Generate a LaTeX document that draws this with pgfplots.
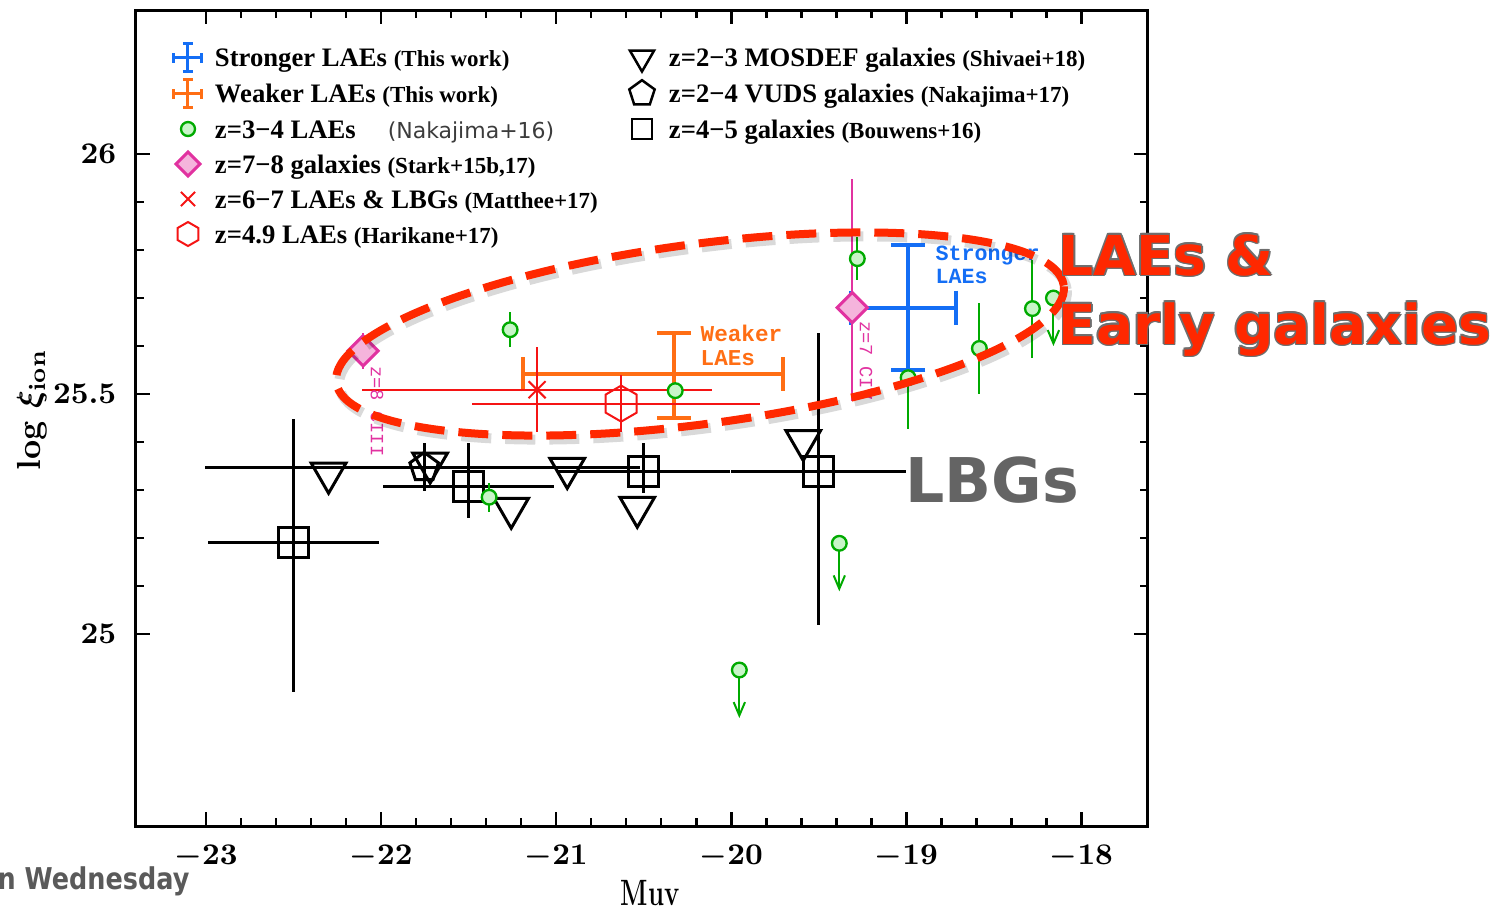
\documentclass[border=0pt]{standalone}
\usepackage{fontspec}
\usepackage{graphicx}
\usepackage{pgfplots}
\pgfplotsset{compat=1.18}
\usetikzlibrary{arrows.meta}
\newfontfamily\dejavu{DejaVu Sans}
\newfontfamily\lmono{Liberation Mono}
\newfontfamily\lserif{Liberation Serif}

\definecolor{cblue}{RGB}{20,110,245}
\definecolor{corange}{RGB}{255,110,20}
\definecolor{cgreen}{RGB}{0,170,0}
\definecolor{cgreenfill}{RGB}{200,245,200}
\definecolor{cpink}{RGB}{225,50,160}
\definecolor{cpinkfill}{RGB}{245,180,220}
\definecolor{cred}{RGB}{245,20,20}
\definecolor{cellipse}{RGB}{255,40,0}
\definecolor{cgraytext}{RGB}{100,100,100}
\definecolor{coutline}{RGB}{110,110,110}

\pgfdeclareplotmark{hexagon}{%
 \pgfpathmoveto{\pgfqpointpolar{90}{\pgfplotmarksize}}%
 \pgfpathlineto{\pgfqpointpolar{150}{\pgfplotmarksize}}%
 \pgfpathlineto{\pgfqpointpolar{210}{\pgfplotmarksize}}%
 \pgfpathlineto{\pgfqpointpolar{270}{\pgfplotmarksize}}%
 \pgfpathlineto{\pgfqpointpolar{330}{\pgfplotmarksize}}%
 \pgfpathlineto{\pgfqpointpolar{30}{\pgfplotmarksize}}%
 \pgfpathclose\pgfusepathqstroke}

\newcommand{\px}[2]{({((#1)-136)*0.3pt},{(826-(#2))*0.3pt})}
\newcommand{\mm}{\char"2212\relax}
\newcommand{\sm}[1]{{\fontsize{6.9}{7}\selectfont #1}}

\pgfplotsset{
  legcross/.style={legend image code/.code={%
    \draw[##1, line width=0.9pt] (-4.2pt,0pt) -- (4.2pt,0pt) (0pt,-4.2pt) -- (0pt,4.2pt)
      (-4.2pt,-1.5pt) -- (-4.2pt,1.5pt) (4.2pt,-1.5pt) -- (4.2pt,1.5pt)
      (-1.5pt,4.2pt) -- (1.5pt,4.2pt) (-1.5pt,-4.2pt) -- (1.5pt,-4.2pt);}},
  legmark/.style={legend image code/.code={%
    \path[draw=none] (-5pt,0pt) -- (5pt,0pt);
    \draw[##1] plot coordinates {(0pt,0pt)};}},
}

\begin{document}
\begin{tikzpicture}
\begin{axis}[
  scale only axis, width=303.6pt, height=244.8pt,
  xmin=-23.4, xmax=-17.62, ymin=24.6, ymax=26.3,
  xtick={-23,-22,-21,-20,-19,-18}, ytick={25,25.5,26},
  minor x tick num=4, minor y tick num=4,
  tick align=inside,
  major tick length=4.2pt, minor tick length=2.4pt,
  every tick/.style={black, line width=0.75pt},
  axis line style={line width=0.9pt},
  tick label style={font=\fontsize{8.8}{10}\selectfont\boldmath},
  xticklabel style={yshift=-2.2pt},
  yticklabel style={xshift=-2.4pt},
  xlabel={\scalebox{0.7}[1]{\fontsize{11}{12}\selectfont\bfseries Muv}},
  ylabel={\fontsize{10}{12}\selectfont\bfseries log {\boldmath$\xi_{\mathbf{ion}}$}},
  every axis x label/.style={at={(axis description cs:0.508,0)}, yshift=-20.1pt, anchor=center},
  every axis y label/.style={at={(axis description cs:0,0.51)}, xshift=-31.2pt, rotate=90, anchor=center},
  legend columns=2, legend cell align=left,
  legend style={draw=none, fill=none, inner sep=0pt, outer sep=0pt,
    at={(axis description cs:0,1)}, anchor=north west, xshift=10.6pt, yshift=-9.6pt,
    font=\lserif\bfseries\fontsize{8}{9}\selectfont,
    nodes={inner sep=0pt, text height=7.2pt, text depth=1.8pt},
    row sep=1.5pt,
    /tikz/every odd column/.append style={column sep=3.1pt},
    /tikz/every even column/.append style={column sep=3.1pt}},
]
% legend entries (row-wise, 2 columns)
\addlegendimage{cblue, legcross}
\addlegendentry{\makebox[120pt][l]{Stronger LAEs \sm{(This work)}}}
\addlegendimage{legmark, black, mark=triangle, mark size=4.2pt, mark options={rotate=180}, line width=0.75pt}
\addlegendentry{z=2\mm3 MOSDEF galaxies \sm{(Shivaei+18)}}
\addlegendimage{corange, legcross}
\addlegendentry{Weaker LAEs \sm{(This work)}}
\addlegendimage{legmark, black, mark=pentagon, mark size=4pt, line width=0.75pt}
\addlegendentry{z=2\mm4 VUDS galaxies \sm{(Nakajima+17)}}
\addlegendimage{legmark, cgreen, mark=*, mark size=2.1pt, mark options={fill=cgreenfill, line width=0.7pt}}
\addlegendentry{z=3\mm4 LAEs\hspace{9.6pt}{\dejavu\mdseries\fontsize{6.6}{7}\selectfont\color[RGB]{60,60,60}(Nakajima+16)}}
\addlegendimage{legmark, black, mark=square, mark size=3pt, line width=0.75pt}
\addlegendentry{z=4\mm5 galaxies \sm{(Bouwens+16)}}
\addlegendimage{legmark, cpink, mark=square*, mark size=2.55pt, mark options={rotate=45, fill=cpinkfill, draw=cpink, line width=0.9pt}}
\addlegendentry{z=7\mm8 galaxies \sm{(Stark+15b,17)}}
\addlegendimage{empty legend}
\addlegendentry{}
\addlegendimage{legmark, cred, mark=x, mark size=3pt, line width=0.6pt}
\addlegendentry{z=6\mm7 LAEs \& LBGs \sm{(Matthee+17)}}
\addlegendimage{empty legend}
\addlegendentry{}
\addlegendimage{legmark, cred, mark=hexagon, mark size=3.6pt, line width=0.6pt}
\addlegendentry{z=4.9 LAEs \sm{(Harikane+17)}}

% z=4-5 galaxies (Bouwens+16)
\addplot[black, only marks, mark=square, mark size=4.5pt, line width=0.9pt, forget plot,
  error bars/.cd, x dir=both, x explicit, y dir=both, y explicit, error mark=none,
  error bar style={line width=0.9pt, black}]
coordinates {
  (-22.5,25.19) += (0.49,0.259) -= (0.49,0.311)
  (-21.5,25.308) += (0.49,0.091) -= (0.49,0.067)
  (-20.5,25.339) += (0.49,0.06) -= (0.49,0.046)
  (-19.5,25.339) += (0.5,0.289) -= (0.5,0.32)
};
% z=2-4 VUDS (Nakajima+17)
\addplot[black, only marks, mark=pentagon, mark size=4.5pt, line width=0.9pt, forget plot,
  error bars/.cd, x dir=both, x explicit, y dir=both, y explicit, error mark=none,
  error bar style={line width=0.9pt, black}]
coordinates {
  (-21.754,25.347) += (1.23,0.05) -= (1.25,0.05)
};
% z=2-3 MOSDEF (Shivaei+18)
\addplot[black, only marks, mark=triangle, mark size=6pt, mark options={rotate=180}, line width=0.9pt, forget plot]
coordinates {
  (-22.3,25.335) (-21.72,25.356) (-21.257,25.262) (-20.937,25.345) (-20.537,25.264) (-19.589,25.403)
};
% z=3-4 LAEs (Nakajima+16), upper limits
\addplot[cgreen, line width=0.6pt, -{Straight Barb[length=4pt, width=3.4pt]}, quiver={u=0, v=-0.1}, forget plot]
coordinates {(-18.16,25.70) (-19.383,25.189) (-19.954,24.925)};
\addplot[cgreen, only marks, mark=*, mark size=2.2pt, mark options={fill=cgreenfill, line width=0.7pt}, forget plot]
coordinates {(-18.16,25.70) (-19.383,25.189) (-19.954,24.925)};
% z=3-4 LAEs (Nakajima+16), detections
\addplot[cgreen, only marks, mark=*, mark size=2.2pt, mark options={fill=cgreenfill, line width=0.7pt}, forget plot,
  error bars/.cd, y dir=both, y explicit, error mark=none, error bar style={line width=0.6pt, cgreen}]
coordinates {
  (-21.263,25.634) +- (0,0.036)
  (-21.383,25.285) +- (0,0.03)
  (-20.32,25.507) +- (0,0.02)
  (-19.28,25.782) +- (0,0.045)
  (-18.99,25.534) +- (0,0.106)
  (-18.583,25.595) +- (0,0.094)
  (-18.28,25.678) +- (0,0.102)
};
% Weaker LAEs (this work)
\addplot[corange, mark=none, line width=1.2pt, forget plot,
  error bars/.cd, x dir=both, x explicit, y dir=both, y explicit, error mark=-,
  error bar style={line width=1.2pt, corange},
  error mark options={rotate=90, line width=1.2pt, mark size=5.1pt, corange}]
coordinates {(-20.326,25.541) += (0.623,0.087) -= (0.863,0.092)};
% Stronger LAEs (this work)
\addplot[cblue, mark=none, line width=1.2pt, forget plot,
  error bars/.cd, x dir=both, x explicit, y dir=both, y explicit, error mark=-,
  error bar style={line width=1.2pt, cblue},
  error mark options={rotate=90, line width=1.2pt, mark size=5.1pt, cblue}]
coordinates {(-18.989,25.68) += (0.275,0.131) -= (0.33,0.131)};
% z=6-7 LAEs & LBGs (Matthee+17)
\addplot[cred, only marks, mark=x, mark size=3.6pt, line width=0.6pt, forget plot,
  error bars/.cd, x dir=both, x explicit, y dir=both, y explicit, error mark=none,
  error bar style={line width=0.6pt, cred}]
coordinates {(-21.109,25.509) +- (1.0,0.088)};
% z=4.9 LAEs (Harikane+17)
\addplot[cred, only marks, mark=hexagon, mark size=5.4pt, line width=0.6pt, forget plot,
  error bars/.cd, x dir=both, x explicit, y dir=both, y explicit, error mark=none,
  error bar style={line width=0.6pt, cred}]
coordinates {(-20.629,25.48) += (0.795,0.059) -= (0.851,0.059)};
% z=7-8 galaxies (Stark+15b,17)
\addplot[cpink, only marks, mark=square*, mark size=3.2pt, mark options={rotate=45, fill=cpinkfill, draw=cpink, line width=0.9pt}, forget plot,
  error bars/.cd, y dir=both, y explicit, error mark=none, error bar style={line width=0.6pt, cpink}]
coordinates {
  (-22.103,25.59) +- (0,0.037)
  (-19.309,25.68) += (0,0.268) -= (0,0.194)
};
\end{axis}

% annotations
\node[anchor=north west, inner sep=0pt, align=left, text=cblue, font=\lmono\bfseries\fontsize{6.5}{6.9}\selectfont] at \px{935}{245} {Stronger\\LAEs};
\node[anchor=north west, inner sep=0pt, align=left, text=corange, font=\lmono\bfseries\fontsize{6.8}{7.2}\selectfont] at \px{700}{324} {Weaker\\LAEs};
\node[anchor=west, rotate=-90, inner sep=0pt, text=cpink, font=\lmono\fontsize{5.6}{6}\selectfont] at \px{377}{366} {z=8 CIII};
\node[anchor=west, rotate=-90, inner sep=0pt, text=cpink, font=\lmono\fontsize{5.6}{6}\selectfont] at \px{866}{321} {z=7 CIV};

% dashed ellipse with soft shadow
\draw[black, opacity=0.15, line width=3pt, dash pattern=on 9pt off 4.2pt, rotate around={7.6:\px{703}{338}}] \px{703}{338} ellipse [x radius=110.1pt, y radius=27pt];
\draw[cellipse, line width=2.4pt, dash pattern=on 9pt off 4.2pt, rotate around={7.6:\px{700}{334}}] \px{700}{334} ellipse [x radius=110.1pt, y radius=27pt];

% LBGs
\node[anchor=base west, inner sep=0pt, text=cgraytext, font=\dejavu\bfseries\fontsize{18.5}{20}\selectfont] at \px{905}{502} {LBGs};

% LAEs & Early galaxies (outlined)
\foreach \dx/\dy in {0.45pt/0pt,-0.45pt/0pt,0pt/0.45pt,0pt/-0.45pt,0.32pt/0.32pt,-0.32pt/0.32pt,0.32pt/-0.32pt,-0.32pt/-0.32pt}{
  \node[anchor=base west, inner sep=0pt, xshift=\dx, yshift=\dy, text=coutline, font=\dejavu\bfseries\fontsize{16.5}{18}\selectfont] at \px{1058}{275} {LAEs \&};
  \node[anchor=base west, inner sep=0pt, xshift=\dx, yshift=\dy, text=coutline, font=\dejavu\bfseries\fontsize{16.5}{18}\selectfont] at \px{1058}{344} {Early galaxies};
}
\node[anchor=base west, inner sep=0pt, text=cellipse, font=\dejavu\bfseries\fontsize{16.5}{18}\selectfont] at \px{1058}{275} {LAEs \&};
\node[anchor=base west, inner sep=0pt, text=cellipse, font=\dejavu\bfseries\fontsize{16.5}{18}\selectfont] at \px{1058}{344} {Early galaxies};

% stray footer text
\node[anchor=base west, inner sep=0pt, text={rgb,255:red,90;green,90;blue,90}, font=\dejavu\bfseries\fontsize{9}{10}\selectfont] at \px{-3}{889} {\scalebox{0.85}[1]{n Wednesday}};

\pgfresetboundingbox
\path[use as bounding box] \px{0}{908} rectangle \px{1505}{0};
\end{tikzpicture}
\end{document}
